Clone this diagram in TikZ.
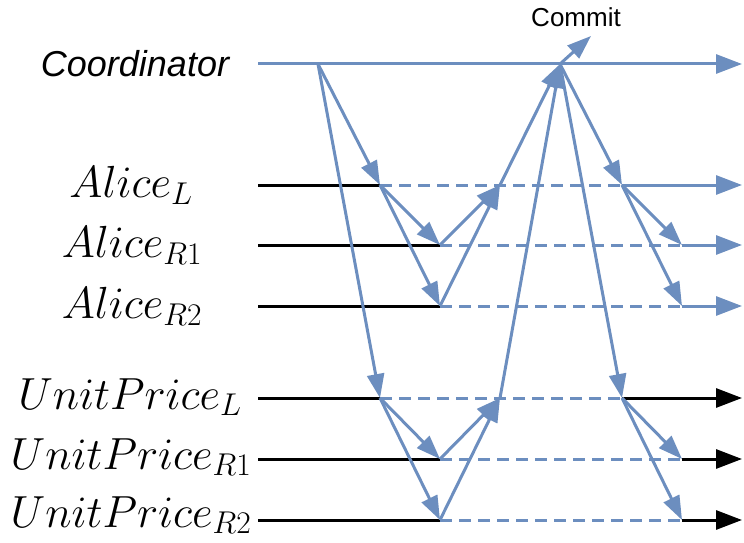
\RequirePackage{fix-cm}
\documentclass[tikz,border=0pt]{standalone}
\usepackage{fontspec}
\newfontfamily\sflabel{Liberation Sans}
\usetikzlibrary{arrows.meta,positioning}
\definecolor{msgblue}{HTML}{6C8EBF}
\tikzset{
  lane/.style = {line width=3pt, black},
  hold/.style = {line width=3pt, msgblue, dash pattern=on 12pt off 7pt},
  live/.style = {line width=3pt, msgblue},
  msg/.style = {line width=3pt, msgblue, -{Triangle[length=24pt,width=17pt]}},
  tip/.style = {-{Triangle[length=26pt,width=19pt]}},
  partlabel/.style = {font=\fontsize{45}{48}\selectfont, anchor=center},
  coordlabel/.style = {font=\sflabel\fontsize{36}{40}\selectfont\itshape, anchor=center}
}

\begin{document}
\begin{tikzpicture}[x=1pt, y=-1pt]
            \useasboundingbox (0,0) rectangle (744,543);
            % labels
            \node[coordlabel] (coord) at (135,64) {Coordinator};
            \node[partlabel] (alL) at (131,185) {$Alice_L$};
            \node[partlabel] (alR1) at (132,245) {$Alice_{R1}$};
            \node[partlabel] (alR2) at (132,306) {$Alice_{R2}$};
            \node[partlabel] (upL) at (130,397) {$UnitPrice_L$};
            \node[partlabel] (upR1) at (131,457) {$UnitPrice_{R1}$};
            \node[partlabel] (upR2) at (131,515) {$UnitPrice_{R2}$};
            \node[font=\sflabel\fontsize{26}{30}\selectfont] (commit) at (576,17) {Commit};
            % time points
            \coordinate (co0) at (258,64);
            \coordinate (cos) at (318,64);
            \coordinate (coc) at (560,64);
            \coordinate (coe) at (742,64);
            \coordinate (cm) at (591,36);
            \coordinate (al0) at (258,185);
            \coordinate (al1) at (380,185);
            \coordinate (ala) at (500,185);
            \coordinate (al2) at (622,185);
            \coordinate (ale) at (742,185);
            \coordinate (ar10) at (258,245);
            \coordinate (ar11) at (440,245);
            \coordinate (ar12) at (682,245);
            \coordinate (ar1e) at (742,245);
            \coordinate (ar20) at (258,306);
            \coordinate (ar21) at (440,306);
            \coordinate (ar22) at (682,306);
            \coordinate (ar2e) at (742,306);
            \coordinate (ul0) at (258,398);
            \coordinate (ul1) at (380,398);
            \coordinate (ula) at (500,398);
            \coordinate (ul2) at (622,398);
            \coordinate (ule) at (742,398);
            \coordinate (ur10) at (258,459);
            \coordinate (ur11) at (440,459);
            \coordinate (ur12) at (682,459);
            \coordinate (ur1e) at (742,459);
            \coordinate (ur20) at (258,520);
            \coordinate (ur21) at (440,520);
            \coordinate (ur22) at (682,520);
            \coordinate (ur2e) at (742,520);
            % lifelines
            \draw[live, tip] (co0) -- (coe);
            \draw[lane] (al0) -- (al1);
            \draw[hold] (al1) -- (al2);
            \draw[live, tip] (al2) -- (ale);
            \draw[lane] (ar10) -- (ar11);
            \draw[hold] (ar11) -- (ar12);
            \draw[live, tip] (ar12) -- (ar1e);
            \draw[lane] (ar20) -- (ar21);
            \draw[hold] (ar21) -- (ar22);
            \draw[live, tip] (ar22) -- (ar2e);
            \draw[lane] (ul0) -- (ul1);
            \draw[hold] (ul1) -- (ul2);
            \draw[lane, tip] (ul2) -- (ule);
            \draw[lane] (ur10) -- (ur11);
            \draw[hold] (ur11) -- (ur12);
            \draw[lane, tip] (ur12) -- (ur1e);
            \draw[lane] (ur20) -- (ur21);
            \draw[hold] (ur21) -- (ur22);
            \draw[lane, tip] (ur22) -- (ur2e);
            % messages
            \draw[msg] (cos) -- (al1);
            \draw[msg] (cos) -- (ul1);
            \draw[msg] (al1) -- (ar11);
            \draw[msg] (al1) -- (ar21);
            \draw[msg] (ul1) -- (ur11);
            \draw[msg] (ul1) -- (ur21);
            \draw[msg] (ar11) -- (ala);
            \draw[msg] (ar21) -- (ala);
            \draw[msg] (ur11) -- (ula);
            \draw[msg] (ur21) -- (ula);
            \draw[msg] (ala) -- (coc);
            \draw[msg] (ula) -- (coc);
            \draw[msg] (coc) -- (al2);
            \draw[msg] (coc) -- (ul2);
            \draw[msg] (al2) -- (ar12);
            \draw[msg] (al2) -- (ar22);
            \draw[msg] (ul2) -- (ur12);
            \draw[msg] (ul2) -- (ur22);
            \draw[msg] (coc) -- (cm);
\end{tikzpicture}
\end{document}
